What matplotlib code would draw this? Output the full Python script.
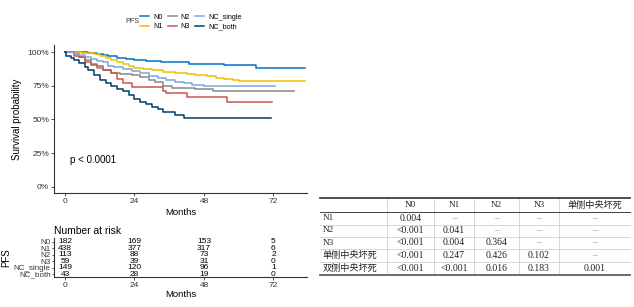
import numpy as np
import matplotlib.pyplot as plt

plt.rcParams['font.family'] = ['Liberation Sans', 'DejaVu Sans']

# --- survival curves ---
groups = ['N0', 'N1', 'N2', 'N3', 'NC_single', 'NC_both']
colors = ['#0073C2', '#EFC000', '#868686', '#CD534C', '#7AA6DC', '#003C67']

t_N0 = [0, 8, 11, 13, 15, 18, 21, 24, 28, 33, 38, 43, 48, 55, 66, 83]
s_N0 = [1.0, 0.995, 0.99, 0.98, 0.97, 0.96, 0.95, 0.94, 0.935, 0.93, 0.925, 0.915, 0.91, 0.905, 0.88, 0.88]

t_N1 = [0, 6, 10, 12, 14, 16, 18, 20, 22, 24, 27, 30, 34, 38, 42, 45, 49, 52, 55, 58, 60, 83]
s_N1 = [1.0, 0.995, 0.985, 0.975, 0.96, 0.945, 0.93, 0.915, 0.895, 0.88, 0.875, 0.865, 0.855,
        0.845, 0.84, 0.83, 0.82, 0.81, 0.80, 0.79, 0.785, 0.785]

t_N2 = [0, 3, 5, 7, 9, 11, 13, 16, 19, 23, 26, 29, 31, 34, 37, 45, 51, 79]
s_N2 = [1.0, 0.985, 0.965, 0.94, 0.91, 0.885, 0.865, 0.845, 0.835, 0.83, 0.815, 0.79, 0.78,
        0.75, 0.735, 0.725, 0.713, 0.713]

t_N3 = [0, 3, 5, 7, 9, 11, 13, 16, 18, 20, 23, 34, 35, 42, 56, 71.5]
s_N3 = [1.0, 0.975, 0.965, 0.93, 0.905, 0.895, 0.87, 0.845, 0.80, 0.77, 0.74, 0.715, 0.695,
        0.67, 0.63, 0.63]

t_NCs = [0, 3, 5, 7, 9, 11, 13, 15, 17, 20, 23, 26, 29, 32, 35, 38, 41, 44, 48, 72.5]
s_NCs = [1.0, 0.99, 0.98, 0.965, 0.95, 0.935, 0.925, 0.90, 0.89, 0.875, 0.86, 0.845, 0.825,
         0.805, 0.79, 0.78, 0.77, 0.755, 0.75, 0.75]

t_NCb = [0, 0.5, 2, 3, 5, 7, 8, 10, 12, 14, 16, 18, 20, 22, 24, 26, 28, 30, 32, 34, 38, 41, 71]
s_NCb = [1.0, 0.97, 0.955, 0.94, 0.92, 0.89, 0.865, 0.83, 0.795, 0.77, 0.75, 0.73, 0.71, 0.685,
         0.655, 0.63, 0.615, 0.595, 0.58, 0.555, 0.535, 0.513, 0.513]

times = [t_N0, t_N1, t_N2, t_N3, t_NCs, t_NCb]
survs = [s_N0, s_N1, s_N2, s_N3, s_NCs, s_NCb]

# --- number at risk ---
risk_times = [0, 24, 48, 72]
risk = {
    'N0': [182, 169, 153, 5],
    'N1': [438, 377, 317, 6],
    'N2': [113, 88, 73, 2],
    'N3': [59, 39, 31, 0],
    'NC_single': [149, 120, 96, 1],
    'NC_both': [43, 28, 19, 0],
}

# --- pairwise p-value table ---
col_labels = ['', 'N0', 'N1', 'N2', 'N3', '单侧中央坏死']
row_labels = ['N1', 'N2', 'N3', '单侧中央坏死', '双侧中央坏死']
pvals = [
    ['0.004', '–', '–', '–', '–'],
    ['<0.001', '0.041', '–', '–', '–'],
    ['<0.001', '0.004', '0.364', '–', '–'],
    ['<0.001', '0.247', '0.426', '0.102', '–'],
    ['<0.001', '<0.001', '0.016', '0.183', '0.001'],
]

W, H = 634, 307
fig = plt.figure(figsize=(W / 100, H / 100), dpi=100)


def px_axes(x0, y0, x1, y1):
    return fig.add_axes([x0 / W, 1 - y1 / H, (x1 - x0) / W, (y1 - y0) / H])


spine_c = '#333333'
tick_c = '#333333'

# main survival plot
ax = px_axes(54, 45, 307, 193)
lines = []
for g, c, t, s in zip(groups, colors, times, survs):
    ln, = ax.step(t, s, where='post', color=c, lw=1.1, label=g)
    lines.append(ln)
ax.set_xlim(-3.8, 83.6)
ax.set_ylim(-0.047, 1.054)
ax.set_xticks(risk_times)
ax.set_yticks([0, 0.25, 0.5, 0.75, 1.0])
ax.set_yticklabels(['0%', '25%', '50%', '75%', '100%'])
for sp in ['top', 'right']:
    ax.spines[sp].set_visible(False)
for sp in ['left', 'bottom']:
    ax.spines[sp].set_color(spine_c)
    ax.spines[sp].set_linewidth(0.8)
ax.tick_params(labelsize=6, colors=tick_c, length=2, width=0.6, pad=1.5)
ax.set_xlabel('Months', fontsize=6.8, labelpad=2)
ax.set_ylabel('Survival probability', fontsize=7, labelpad=4)
ax.text(1.7, 0.2, 'p < 0.0001', fontsize=7, va='center', ha='left')

# legend
fig.text(125 / W, 1 - 21.5 / H, 'PFS', fontsize=5.2, va='center', ha='left', color='#333333')
fig.legend(lines, groups, ncol=3, loc='center left', bbox_to_anchor=(140 / W, 1 - 22 / H),
           frameon=False, fontsize=5.2, handlelength=1.3, handletextpad=0.5,
           columnspacing=0.7, labelspacing=0.35, borderaxespad=0, borderpad=0)

# risk table
axr = px_axes(54, 238, 307, 277)
n = len(groups)
for i, g in enumerate(groups):
    yv = n - 1 - i
    for tt, v in zip(risk_times, risk[g]):
        axr.text(tt, yv, str(v), fontsize=6, ha='center', va='center')
axr.set_xlim(-3.8, 83.6)
axr.set_ylim(-0.45, n - 0.45)
axr.set_xticks(risk_times)
axr.set_yticks(range(n))
axr.set_yticklabels(groups[::-1])
for sp in ['top', 'right']:
    axr.spines[sp].set_visible(False)
for sp in ['left', 'bottom']:
    axr.spines[sp].set_color(spine_c)
    axr.spines[sp].set_linewidth(0.8)
axr.tick_params(axis='x', labelsize=6, colors=tick_c, length=2, width=0.6, pad=1.5)
axr.tick_params(axis='y', labelsize=5.8, colors=tick_c, length=1.5, width=0.6, pad=1)
axr.set_xlabel('Months', fontsize=6.8, labelpad=1)
axr.set_ylabel('PFS', fontsize=7, labelpad=2)
axr.set_title('Number at risk', fontsize=7.4, loc='left', pad=3)

# p-value table (drawn in pixel space)
axt = px_axes(0, 0, W, H)
axt.set_xlim(0, W)
axt.set_ylim(H, 0)
axt.axis('off')
col_x = [320, 387, 434, 474, 519, 559, 630]
row_y = [198, 212, 224.5, 236.5, 249, 262, 274.5]
tfont = ['Liberation Serif', 'Noto Sans CJK SC']
for x in col_x[1:-1]:
    axt.plot([x, x], [row_y[0], row_y[-1]], color='#d0d0d0', lw=0.6)
for y in row_y[2:-1]:
    axt.plot([col_x[0], col_x[-1]], [y, y], color='#d0d0d0', lw=0.6)
axt.plot([col_x[0], col_x[-1]], [row_y[0], row_y[0]], color='#404040', lw=1.3)
axt.plot([col_x[0], col_x[-1]], [row_y[1], row_y[1]], color='#404040', lw=0.7)
axt.plot([col_x[0], col_x[-1]], [row_y[-1], row_y[-1]], color='#606060', lw=1.3)

for j, lab in enumerate(col_labels):
    cx = (col_x[j] + col_x[j + 1]) / 2
    cy = (row_y[0] + row_y[1]) / 2
    axt.text(cx, cy, lab, fontsize=6.6, family=tfont, ha='center', va='center', color='#222222')
for i, lab in enumerate(row_labels):
    cy = (row_y[i + 1] + row_y[i + 2]) / 2
    axt.text(col_x[0] + 2.5, cy, lab, fontsize=6.6, family=tfont, ha='left', va='center',
             color='#222222')
    for j, v in enumerate(pvals[i]):
        cx = (col_x[j + 1] + col_x[j + 2]) / 2
        c = '#999999' if v == '–' else '#222222'
        axt.text(cx, cy, v, fontsize=7, family=tfont, ha='center', va='center', color=c)

fig.savefig('out.png', dpi=100)
